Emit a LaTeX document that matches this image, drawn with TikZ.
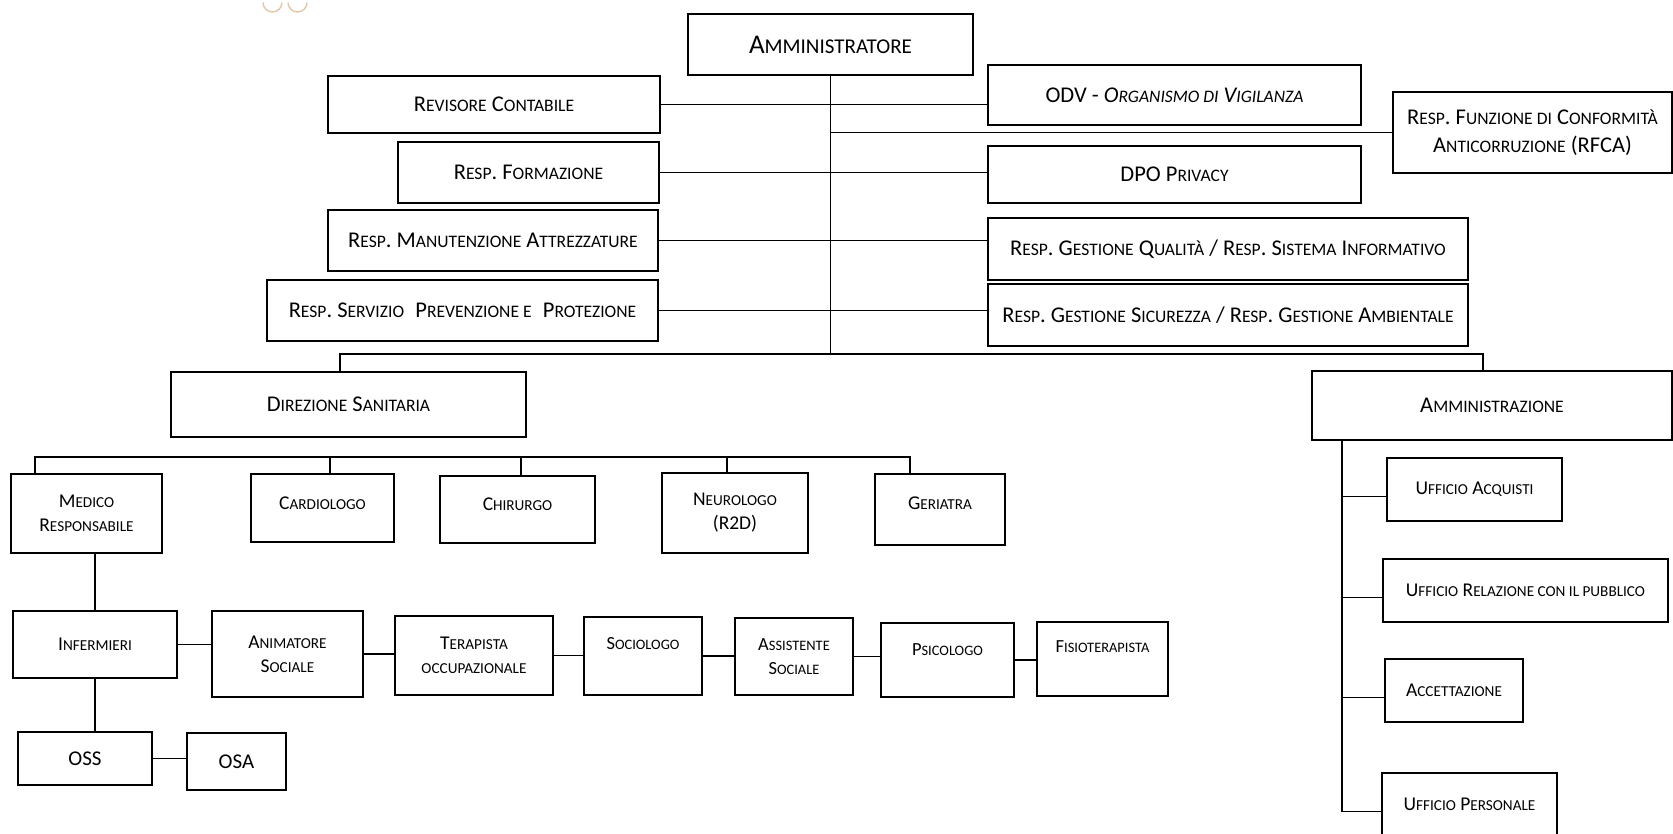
\documentclass[tikz,border=0pt]{standalone}
\usepackage{fontspec}
\setmainfont{Carlito}
\definecolor{logotan}{RGB}{224,200,166}
\makeatletter
\newcommand\lc[1]{{\dimen@=\f@size pt\dimen@=0.78\dimen@\fontsize{\dimen@}{\f@baselineskip}\selectfont\MakeUppercase{#1}}}
\makeatother
\begin{document}
\begin{tikzpicture}[x=1pt,y=-1pt]
        \tikzset{box/.style = {draw,line width=2.1pt,align=center,inner sep=2pt}}
        \tikzset{topbox/.style = {box,font=\fontsize{22.5}{28}\selectfont}}
        \tikzset{midbox/.style = {box,font=\fontsize{22.5}{28}\selectfont}}
        \tikzset{lowbox/.style = {box,font=\fontsize{19.5}{24}\selectfont}}
        \tikzset{tinybox/.style = {box,font=\fontsize{18.5}{23.5}\selectfont}}
        \tikzset{link/.style = {line width=1.8pt}}
        \useasboundingbox (0,0) rectangle (1673,833);
        \draw[logotan,line width=1.4pt] (263,2.5) arc[start angle=180,end angle=0,radius=9.5];
        \draw[logotan,line width=1.4pt] (288,2.5) arc[start angle=180,end angle=0,radius=9.5];
        % vertice e staff
        \node[topbox,font=\fontsize{27}{30}\selectfont,minimum width=285pt,minimum height=61pt] (amm) at (830.5,44.5) {A\lc{mministratore}};
        \node[topbox,minimum width=332pt,minimum height=57pt] (revisore) at (494,104.5) {R\lc{evisore} C\lc{ontabile}};
        \node[topbox,minimum width=261pt,minimum height=61pt] (formazione) at (528.5,172.5) {R\lc{esp}. F\lc{ormazione}};
        \node[topbox,minimum width=330pt,minimum height=61pt] (manutenzione) at (493,240.5) {R\lc{esp}. M\lc{anutenzione} A\lc{ttrezzature}};
        \node[topbox,minimum width=391pt,minimum height=61pt] (servizio) at (462.5,310.5) {R\lc{esp}. S\lc{ervizio}\enspace P\lc{revenzione e}\enspace P\lc{rotezione}};
        \node[topbox,minimum width=373pt,minimum height=60pt] (odv) at (1174.5,95) {ODV - \textit{O\lc{rganismo di} V\lc{igilanza}}};
        \node[topbox,minimum width=373pt,minimum height=57pt] (dpo) at (1174.5,174.5) {DPO P\lc{rivacy}};
        \node[topbox,minimum width=480pt,minimum height=62pt] (qualita) at (1228,249) {R\lc{esp}. G\lc{estione} Q\lc{ualità} / R\lc{esp}. S\lc{istema} I\lc{nformativo}};
        \node[topbox,minimum width=480pt,minimum height=62pt] (sicurezza) at (1228,315) {R\lc{esp}. G\lc{estione} S\lc{icurezza} / R\lc{esp}. G\lc{estione} A\lc{mbientale}};
        \node[topbox,minimum width=279pt,minimum height=81pt] (rfca) at (1532.5,132.5) {R\lc{esp}. F\lc{unzione di} C\lc{onformità}\\A\lc{nticorruzione} (RFCA)};
        \draw[link] (amm.south) -- (amm.south |- 0,354) coordinate (bus);
        \draw[link] (revisore.east) -- (revisore.east -| odv.west);
        \draw[link] (formazione.east) -- (formazione.east -| dpo.west);
        \draw[link] (manutenzione.east) -- (manutenzione.east -| qualita.west);
        \draw[link] (servizio.east) -- (servizio.east -| sicurezza.west);
        \draw[link] (amm.south |- rfca.west) -- (rfca.west);
        % aree
        \node[midbox,minimum width=355pt,minimum height=65pt] (direzione) at (348.5,404.5) {D\lc{irezione} S\lc{anitaria}};
        \node[midbox,minimum width=360pt,minimum height=69pt] (amministrazione) at (1492,405.5) {A\lc{mministrazione}};
        \draw[link] ([xshift=-8.5pt]direzione.north) |- (bus) -| ([xshift=-9pt]amministrazione.north);
        % direzione sanitaria
        \node[lowbox,minimum width=151pt,minimum height=79pt] (medico) at (86.5,513.5) {M\lc{edico}\\R\lc{esponsabile}};
        \node[lowbox,minimum width=143pt,minimum height=68pt,text depth=10pt] (cardiologo) at (322.5,508) {C\lc{ardiologo}};
        \node[lowbox,minimum width=155pt,minimum height=67pt,text depth=10pt] (chirurgo) at (517.5,509.5) {C\lc{hirurgo}};
        \node[lowbox,minimum width=146pt,minimum height=80pt] (neurologo) at (735,513) {N\lc{eurologo}\\(R2D)};
        \node[lowbox,minimum width=130pt,minimum height=71pt,text depth=12pt] (geriatra) at (940,509.5) {G\lc{eriatra}};
        \coordinate (dsbus) at (0,457);
        \draw[link] ([xshift=-51.5pt]medico.north) |- ([xshift=-30pt]geriatra.north |- dsbus) -- ([xshift=-30pt]geriatra.north);
        \foreach \n/\dx in {cardiologo/7.5,chirurgo/3.5,neurologo/-8}
            \draw[link] ([xshift=\dx pt]\n.north) -- ([xshift=\dx pt]\n.north |- dsbus);
        \node[lowbox,minimum width=164pt,minimum height=67pt] (infermieri) at (95,644.5) {I\lc{nfermieri}};
        \node[lowbox,minimum width=151pt,minimum height=86pt] (animatore) at (287.5,654) {A\lc{nimatore}\\S\lc{ociale}};
        \node[lowbox,minimum width=158pt,minimum height=79pt] (terapista) at (474,655.5) {T\lc{erapista}\\\lc{occupazionale}};
        \node[tinybox,minimum width=118pt,minimum height=78pt,text depth=26pt] (sociologo) at (643,656) {S\lc{ociologo}};
        \node[tinybox,minimum width=118pt,minimum height=77pt] (assistente) at (794,656.5) {A\lc{ssistente}\\S\lc{ociale}};
        \node[tinybox,minimum width=133pt,minimum height=74pt,text depth=20pt] (psicologo) at (947.5,660) {P\lc{sicologo}};
        \node[tinybox,minimum width=131pt,minimum height=74pt,text depth=24pt] (fisio) at (1102.5,659) {F\lc{isioterapista}};
        \node[box,font=\fontsize{21}{24}\selectfont,minimum width=134pt,minimum height=53pt] (oss) at (85,758.5) {OSS};
        \node[box,font=\fontsize{21}{24}\selectfont,minimum width=99pt,minimum height=57pt] (osa) at (236.5,761.5) {OSA};
        \draw[link] (infermieri.north) -- (infermieri.north |- medico.south);
        \draw[link] (infermieri.south) -- (infermieri.south |- oss.north);
        \foreach \a/\b in {infermieri/animatore,animatore/terapista,terapista/sociologo,sociologo/assistente,assistente/psicologo,psicologo/fisio,oss/osa}
            \draw[link] (\a.east) -- (\a.east -| \b.west);
        % amministrazione
        \node[lowbox,minimum width=175pt,minimum height=63pt] (acquisti) at (1474.5,489.5) {U\lc{fficio} A\lc{cquisti}};
        \node[lowbox,minimum width=285pt,minimum height=63pt] (relazione) at (1525.5,590.5) {U\lc{fficio} R\lc{elazione con il pubblico}};
        \node[lowbox,minimum width=138pt,minimum height=63pt] (accettazione) at (1454,690.5) {A\lc{ccettazione}};
        \node[lowbox,minimum width=175pt,minimum height=63pt] (personale) at (1469.5,804.5) {U\lc{fficio} P\lc{ersonale}};
        \coordinate (spine) at ([xshift=31pt]amministrazione.south west);
        \draw[link] (spine) |- ([yshift=-7pt]personale.west);
        \foreach \n in {acquisti,relazione,accettazione}
            \draw[link] ([yshift=-7pt]\n.west) -| (spine);
\end{tikzpicture}
\end{document}
